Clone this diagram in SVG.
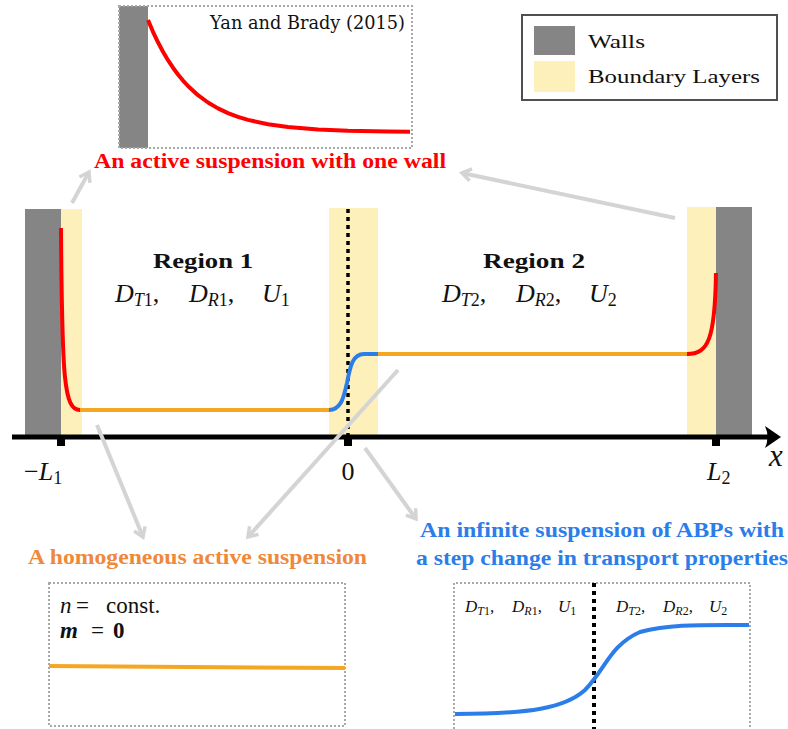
<svg xmlns="http://www.w3.org/2000/svg" width="788" height="729" viewBox="0 0 788 729">
  <defs>
    <style>
      .wall { fill: #858585; }
      .layer { fill: #fdf0ba; }
      .frame { fill: none; stroke: #a8a8a8; stroke-width: 2; stroke-dasharray: 2 2; }
      .curve { fill: none; stroke-width: 4; stroke-linecap: butt; stroke-linejoin: round; }
      .red { stroke: #ff0000; }
      .orange { stroke: #f5a623; }
      .blue { stroke: #2b7de9; }
      .it { font-style: italic; }
      .link { fill: none; stroke: #d4d4d4; stroke-width: 4; }
    </style>
    <marker id="chev" viewBox="-12 -8 14 16" refX="0" refY="0" markerWidth="14" markerHeight="16" markerUnits="userSpaceOnUse" orient="auto" overflow="visible">
      <path d="M-9,-6 L0,0 L-9,6" fill="none" stroke="#d4d4d4" stroke-width="3.5"/>
    </marker>
  </defs>

  <rect width="788" height="729" fill="#ffffff"/>

  <g font-family="Liberation Serif, serif" fill="#111">

  <!-- Single-wall inset -->
  <g id="inset-one-wall">
    <rect class="wall" x="119" y="6" width="29" height="142"/>
    <rect class="frame" x="119" y="6" width="293" height="142"/>
    <path class="curve red" d="M148,20 L153,31.8 L158,42.3 L163,51.7 L168,60.2 L173,67.7 L178,74.5 L183,80.6 L188,86 L198,95.2 L208,102.5 L218,108.4 L228,113.1 L238,116.9 L248,119.9 L268,124.2 L288,127 L318,129.4 L348,130.7 L388,131.5 L410,131.7"/>
    <text x="405" y="29" font-size="18" font-family="DejaVu Serif" text-anchor="end" textLength="195" lengthAdjust="spacingAndGlyphs">Yan and Brady (2015)</text>
    <text x="94" y="168" font-size="20" font-weight="bold" fill="#ff0000" textLength="352" lengthAdjust="spacingAndGlyphs">An active suspension with one wall</text>
  </g>

  <!-- Legend -->
  <g id="legend">
    <rect x="522" y="15" width="255" height="85" fill="#ffffff" stroke="#505050" stroke-width="2"/>
    <rect class="wall" x="534" y="26" width="41" height="29"/>
    <rect class="layer" x="534" y="61" width="41" height="31"/>
    <text x="588" y="48" font-size="19" font-family="Times New Roman" textLength="57" lengthAdjust="spacingAndGlyphs">Walls</text>
    <text x="588" y="83" font-size="19" font-family="Liberation Serif" textLength="172" lengthAdjust="spacingAndGlyphs">Boundary Layers</text>
  </g>

  <!-- Two-region channel -->
  <g id="channel">
    <rect class="wall" x="25" y="209" width="36" height="228"/>
    <rect class="layer" x="61" y="209" width="21" height="228"/>
    <rect class="layer" x="329" y="208" width="49" height="229"/>
    <rect class="layer" x="687" y="207" width="29" height="230"/>
    <rect class="wall" x="716" y="207" width="36" height="230"/>
    <line x1="348" y1="209" x2="348" y2="437" stroke="#000" stroke-width="3.5" stroke-dasharray="4 4"/>

    <path class="curve red" d="M61,228 C62,380 64,410 80,410"/>
    <line class="curve orange" x1="80" y1="410" x2="329" y2="410"/>
    <path class="curve blue" d="M329,410 C342,410 344,395 347,383 C350,368 352,354 364,354 L378,354"/>
    <line class="curve orange" x1="378" y1="354" x2="687" y2="354"/>
    <path class="curve red" d="M687,354 C708,354 715,340 716,273"/>

    <!-- x axis -->
    <line x1="12" y1="437" x2="772" y2="437" stroke="#000" stroke-width="5"/>
    <path d="M781,437 L765,426 Q770,437 765,448 Z" fill="#000"/>
    <rect x="57" y="437" width="8" height="9" fill="#000"/>
    <rect x="344" y="437" width="8" height="9" fill="#000"/>
    <rect x="712" y="437" width="8" height="9" fill="#000"/>

    <text x="24" y="480" font-size="26">−<tspan class="it">L</tspan><tspan font-size="18" dy="4">1</tspan></text>
    <text x="348" y="480" font-size="26" text-anchor="middle">0</text>
    <text x="707" y="480" font-size="26"><tspan class="it">L</tspan><tspan font-size="18" dy="4">2</tspan></text>
    <text class="it" x="769" y="466" font-size="31">x</text>

    <!-- Region 1 -->
    <text x="153" y="268" font-size="22" font-weight="bold" textLength="100" lengthAdjust="spacingAndGlyphs">Region 1</text>
    <g font-size="26">
      <text x="115" y="302"><tspan class="it">D</tspan><tspan font-size="18" dy="4"><tspan class="it">T</tspan>1</tspan><tspan dy="-4">,</tspan></text>
      <text x="189" y="302"><tspan class="it">D</tspan><tspan font-size="18" dy="4"><tspan class="it">R</tspan>1</tspan><tspan dy="-4">,</tspan></text>
      <text x="262" y="302"><tspan class="it">U</tspan><tspan font-size="18" dy="4">1</tspan></text>
    </g>

    <!-- Region 2 -->
    <text x="483" y="268" font-size="22" font-weight="bold" textLength="102" lengthAdjust="spacingAndGlyphs">Region 2</text>
    <g font-size="26" transform="translate(327,0)">
      <text x="115" y="302"><tspan class="it">D</tspan><tspan font-size="18" dy="4"><tspan class="it">T</tspan>2</tspan><tspan dy="-4">,</tspan></text>
      <text x="189" y="302"><tspan class="it">D</tspan><tspan font-size="18" dy="4"><tspan class="it">R</tspan>2</tspan><tspan dy="-4">,</tspan></text>
      <text x="262" y="302"><tspan class="it">U</tspan><tspan font-size="18" dy="4">2</tspan></text>
    </g>
  </g>

  <!-- Homogeneous suspension inset -->
  <g id="inset-homogeneous">
    <text x="28" y="564" font-size="20" font-weight="bold" fill="#f0883a" textLength="339" lengthAdjust="spacingAndGlyphs">A homogeneous active suspension</text>
    <rect class="frame" x="49" y="583" width="296" height="143"/>
    <line class="curve orange" x1="49" y1="666" x2="345" y2="668"/>
    <text x="60" y="613" font-size="23"><tspan class="it">n</tspan><tspan x="76">=</tspan><tspan x="106">const.</tspan></text>
    <text x="60" y="638" font-size="23" font-weight="bold"><tspan class="it">m</tspan><tspan x="91" font-weight="normal">=</tspan><tspan x="113">0</tspan></text>
  </g>

  <!-- Step-change suspension inset -->
  <g id="inset-step">
    <text x="420" y="537" font-size="20" font-weight="bold" fill="#2b7de9" textLength="364" lengthAdjust="spacingAndGlyphs">An infinite suspension of ABPs with</text>
    <text x="416" y="565" font-size="20" font-weight="bold" fill="#2b7de9" textLength="372" lengthAdjust="spacingAndGlyphs">a step change in transport properties</text>
    <path class="frame" d="M454,729 L454,583 L750,583 L750,729"/>
    <line x1="594" y1="583" x2="594" y2="729" stroke="#000" stroke-width="4" stroke-dasharray="4 4"/>
    <path class="curve blue" d="M455,714 C530,714 565,708 585,690 C605,670 610,645 640,632 C670,624 700,625 749,625"/>
    <g font-size="17">
      <text x="465" y="612"><tspan class="it">D</tspan><tspan font-size="12" dy="3"><tspan class="it">T</tspan>1</tspan><tspan dy="-3">,</tspan></text>
      <text x="512" y="612"><tspan class="it">D</tspan><tspan font-size="12" dy="3"><tspan class="it">R</tspan>1</tspan><tspan dy="-3">,</tspan></text>
      <text x="558" y="612"><tspan class="it">U</tspan><tspan font-size="12" dy="3">1</tspan></text>
    </g>
    <g font-size="17" transform="translate(151,0)">
      <text x="465" y="612"><tspan class="it">D</tspan><tspan font-size="12" dy="3"><tspan class="it">T</tspan>2</tspan><tspan dy="-3">,</tspan></text>
      <text x="512" y="612"><tspan class="it">D</tspan><tspan font-size="12" dy="3"><tspan class="it">R</tspan>2</tspan><tspan dy="-3">,</tspan></text>
      <text x="558" y="612"><tspan class="it">U</tspan><tspan font-size="12" dy="3">2</tspan></text>
    </g>
  </g>

  </g>

  <!-- Connectors -->
  <g id="connectors">
    <line class="link" x1="72" y1="203" x2="89" y2="172" marker-end="url(#chev)"/>
    <line class="link" x1="675" y1="218" x2="462" y2="173" marker-end="url(#chev)"/>
    <line class="link" x1="97" y1="425" x2="143" y2="537" marker-end="url(#chev)"/>
    <line class="link" x1="398" y1="370" x2="248" y2="537" marker-end="url(#chev)"/>
    <line class="link" x1="365" y1="448" x2="416" y2="519" marker-end="url(#chev)"/>
  </g>
</svg>
